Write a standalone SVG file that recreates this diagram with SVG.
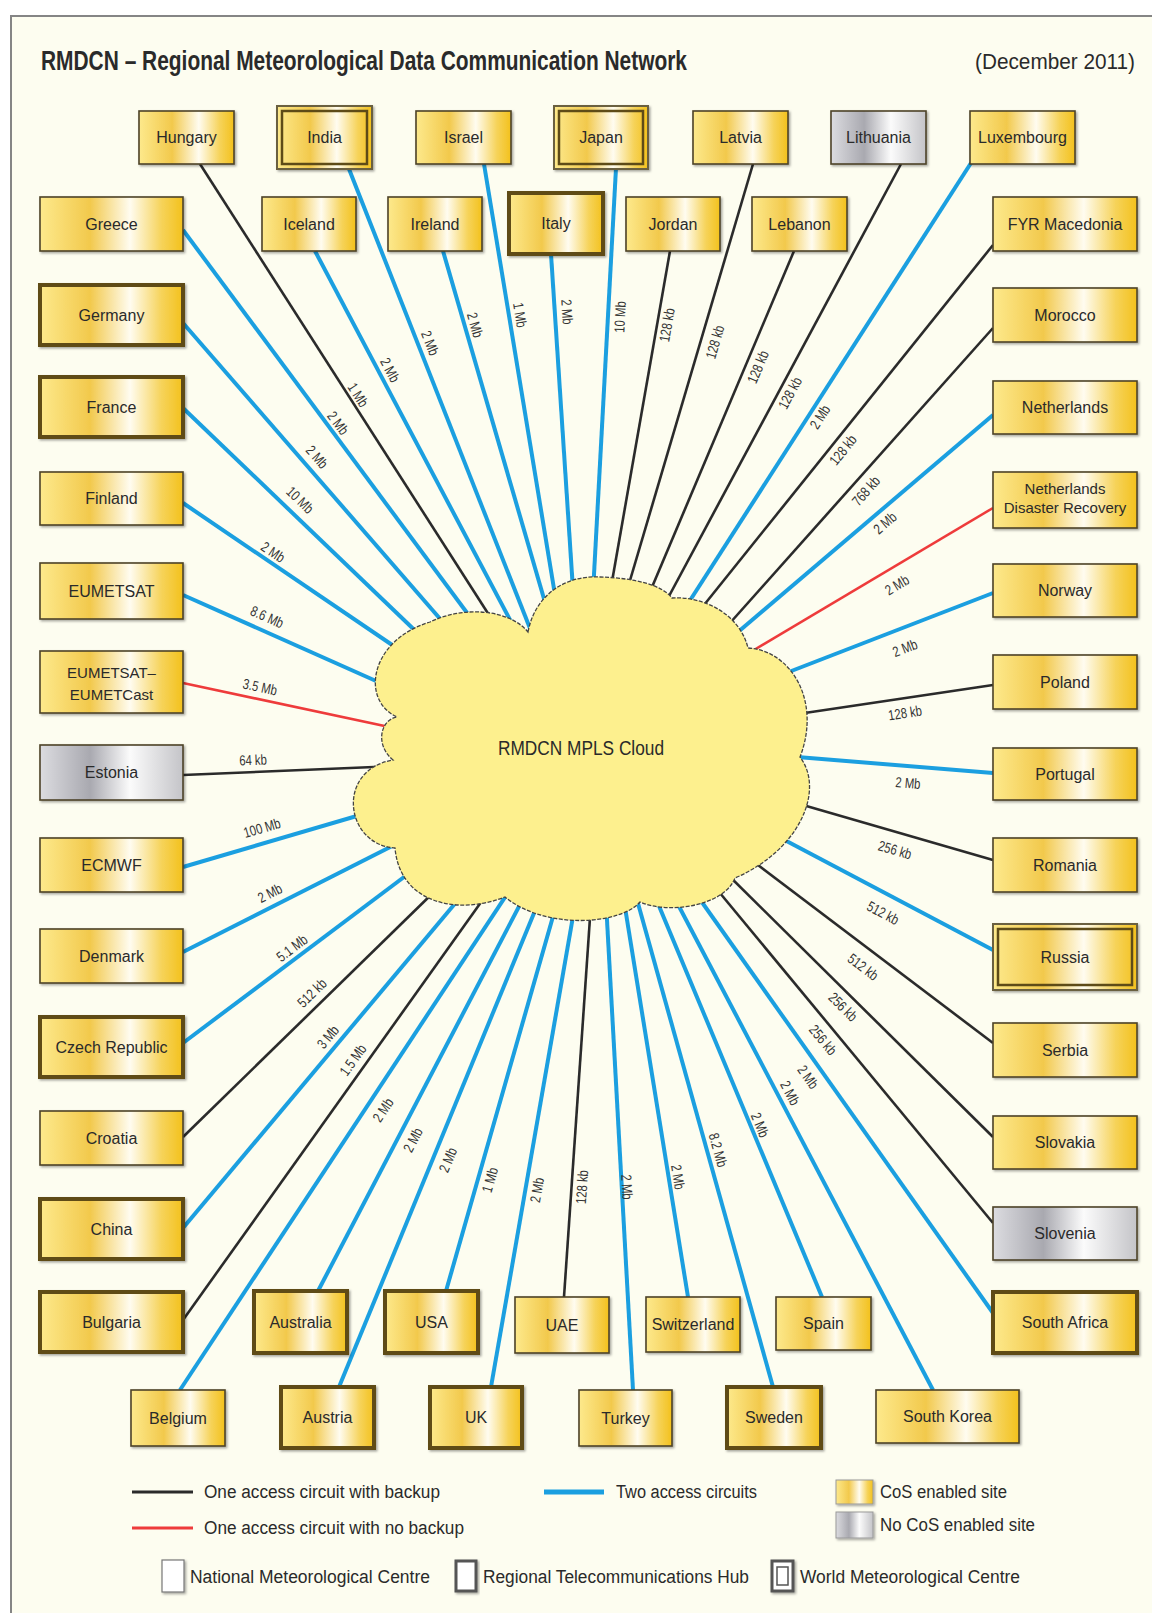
<svg xmlns="http://www.w3.org/2000/svg" width="1152" height="1613" viewBox="0 0 1152 1613">
<defs>
<linearGradient id="gold" x1="0" y1="0" x2="1" y2="0">
<stop offset="0" stop-color="#fde98c"/><stop offset="0.35" stop-color="#f2c94c"/><stop offset="0.63" stop-color="#fffcf0"/><stop offset="0.85" stop-color="#f6d35a"/><stop offset="1" stop-color="#f3c11c"/>
</linearGradient>
<linearGradient id="grey" x1="0" y1="0" x2="1" y2="0">
<stop offset="0" stop-color="#dcdce0"/><stop offset="0.35" stop-color="#a9a9b0"/><stop offset="0.63" stop-color="#fbfbfb"/><stop offset="1" stop-color="#c4c4c8"/>
</linearGradient>
<filter id="sh" x="-10%" y="-10%" width="130%" height="140%"><feDropShadow dx="1.5" dy="1.5" stdDeviation="1" flood-color="#000" flood-opacity="0.35"/></filter>
<style>
.bl{stroke:#1b9fe0;stroke-width:4;fill:none}
.bk{stroke:#2b2b2b;stroke-width:2.6;fill:none}
.rd{stroke:#ee3b3b;stroke-width:2.6;fill:none}
.box{filter:url(#sh)}
.gd{fill:url(#gold)}
.gy{fill:url(#grey)}
.nmc{stroke:#4d4328;stroke-width:1.6}
.rth{stroke:#5e4b17;stroke-width:4}
.wmco{stroke:#6b6040;stroke-width:2}
.wmci{fill:none;stroke:#5e4b17;stroke-width:2.5}
.lbl{font-family:"Liberation Sans",Arial,sans-serif;font-size:14.5px;fill:#333;text-anchor:middle}
.nt{font-family:"Liberation Sans",Arial,sans-serif;font-size:16px;fill:#2a2a2a;text-anchor:middle}
.nt2{font-family:"Liberation Sans",Arial,sans-serif;font-size:15px;fill:#2a2a2a;text-anchor:middle}
.lg{font-family:"Liberation Sans",Arial,sans-serif;font-size:18px;fill:#2a2a2a}
</style>
</defs>
<rect x="0" y="0" width="1152" height="1613" fill="#ffffff"/>
<rect x="11" y="16" width="1160" height="1620" fill="#fdfdf0" stroke="#858585" stroke-width="2"/>
<text x="41" y="70" font-family="'Liberation Sans',Arial,sans-serif" font-size="27" font-weight="bold" fill="#2a2a2a" textLength="646" lengthAdjust="spacingAndGlyphs">RMDCN – Regional Meteorological Data Communication Network</text>
<text x="975" y="69" font-family="'Liberation Sans',Arial,sans-serif" font-size="22" fill="#2a2a2a" textLength="160" lengthAdjust="spacingAndGlyphs">(December 2011)</text>

<g id="connectors">
<line class="bl" x1="183" y1="230" x2="479" y2="629"/>
<line class="bl" x1="183" y1="323" x2="455" y2="636"/>
<line class="bl" x1="183" y1="408" x2="428" y2="643"/>
<line class="bl" x1="183" y1="503" x2="404" y2="653"/>
<line class="bl" x1="183" y1="595" x2="394" y2="689"/>
<line class="rd" x1="183" y1="683" x2="408" y2="731"/>
<line class="bk" x1="183" y1="775" x2="398" y2="766"/>
<line class="bl" x1="183" y1="867" x2="367" y2="813"/>
<line class="bl" x1="183" y1="952" x2="408" y2="838"/>
<line class="bl" x1="183" y1="1043" x2="420" y2="865"/>
<line class="bk" x1="183" y1="1137" x2="438" y2="888"/>
<line class="bl" x1="183" y1="1228" x2="463" y2="894"/>
<line class="bk" x1="183" y1="1320" x2="489" y2="891"/>
<line class="bl" x1="180" y1="1390" x2="511" y2="888"/>
<line class="bl" x1="318" y1="1291" x2="525" y2="895"/>
<line class="bl" x1="339" y1="1387" x2="539" y2="901"/>
<line class="bl" x1="446" y1="1291" x2="556" y2="906"/>
<line class="bl" x1="491" y1="1387" x2="575" y2="905"/>
<line class="bk" x1="564" y1="1297" x2="591" y2="903"/>
<line class="bl" x1="633" y1="1390" x2="606" y2="902"/>
<line class="bl" x1="688" y1="1297" x2="623" y2="895"/>
<line class="bl" x1="773" y1="1387" x2="634" y2="889"/>
<line class="bl" x1="822" y1="1297" x2="654" y2="894"/>
<line class="bl" x1="933" y1="1390" x2="673" y2="895"/>
<line class="bl" x1="993" y1="1313" x2="694" y2="891"/>
<line class="bk" x1="993" y1="1223" x2="710" y2="881"/>
<line class="bk" x1="993" y1="1137" x2="717" y2="864"/>
<line class="bk" x1="993" y1="1043" x2="750" y2="859"/>
<line class="bl" x1="993" y1="950" x2="777" y2="836"/>
<line class="bk" x1="993" y1="860" x2="796" y2="803"/>
<line class="bl" x1="993" y1="773" x2="785" y2="756"/>
<line class="bk" x1="993" y1="685" x2="798" y2="714"/>
<line class="bl" x1="993" y1="593" x2="781" y2="675"/>
<line class="rd" x1="993" y1="508" x2="744" y2="656"/>
<line class="bl" x1="993" y1="415" x2="731" y2="638"/>
<line class="bk" x1="993" y1="328" x2="730" y2="623"/>
<line class="bk" x1="993" y1="245" x2="696" y2="615"/>
<line class="bl" x1="971" y1="163" x2="680" y2="616"/>
<line class="bk" x1="901" y1="164" x2="661" y2="611"/>
<line class="bk" x1="794" y1="251" x2="647" y2="599"/>
<line class="bk" x1="753" y1="164" x2="626" y2="594"/>
<line class="bk" x1="670" y1="251" x2="610" y2="593"/>
<line class="bl" x1="616" y1="168" x2="593" y2="593"/>
<line class="bl" x1="551" y1="254" x2="574" y2="605"/>
<line class="bl" x1="484" y1="164" x2="557" y2="607"/>
<line class="bl" x1="443" y1="251" x2="549" y2="616"/>
<line class="bl" x1="349" y1="169" x2="533" y2="636"/>
<line class="bl" x1="315" y1="251" x2="517" y2="633"/>
<line class="bk" x1="200" y1="164" x2="498" y2="629"/>

<g class="lbl">
<text transform="translate(567,312) rotate(86.3) scale(0.78,1)" y="5">2 Mb</text>
<text transform="translate(520,315) rotate(80.6) scale(0.78,1)" y="5">1 Mb</text>
<text transform="translate(475,325) rotate(73.8) scale(0.78,1)" y="5">2 Mb</text>
<text transform="translate(430,343) rotate(68.5) scale(0.78,1)" y="5">2 Mb</text>
<text transform="translate(390,370) rotate(62.1) scale(0.78,1)" y="5">2 Mb</text>
<text transform="translate(358,395) rotate(57.3) scale(0.78,1)" y="5">1 Mb</text>
<text transform="translate(338,423) rotate(53.4) scale(0.78,1)" y="5">2 Mb</text>
<text transform="translate(317,457) rotate(49) scale(0.78,1)" y="5">2 Mb</text>
<text transform="translate(300,500) rotate(43.8) scale(0.78,1)" y="5">10 Mb</text>
<text transform="translate(273,552) rotate(33.4) scale(0.78,1)" y="5">2 Mb</text>
<text transform="translate(267,617) rotate(24.1) scale(0.78,1)" y="5">8.6 Mb</text>
<text transform="translate(260,687) rotate(12.1) scale(0.78,1)" y="5">3.5 Mb</text>
<text transform="translate(253,760) rotate(-2.3) scale(0.78,1)" y="5">64 kb</text>
<text transform="translate(262,828) rotate(-16.4) scale(0.78,1)" y="5">100 Mb</text>
<text transform="translate(270,893) rotate(-26.8) scale(0.78,1)" y="5">2 Mb</text>
<text transform="translate(292,948) rotate(-36.9) scale(0.78,1)" y="5">5.1 Mb</text>
<text transform="translate(312,993) rotate(-44.4) scale(0.78,1)" y="5">512 kb</text>
<text transform="translate(328,1037) rotate(-50.1) scale(0.78,1)" y="5">3 Mb</text>
<text transform="translate(353,1060) rotate(-54.5) scale(0.78,1)" y="5">1.5 Mb</text>
<text transform="translate(383,1110) rotate(-56.6) scale(0.78,1)" y="5">2 Mb</text>
<text transform="translate(413,1140) rotate(-62.4) scale(0.78,1)" y="5">2 Mb</text>
<text transform="translate(448,1160) rotate(-67.7) scale(0.78,1)" y="5">2 Mb</text>
<text transform="translate(490,1180) rotate(-74.1) scale(0.78,1)" y="5">1 Mb</text>
<text transform="translate(537,1190) rotate(-80.2) scale(0.78,1)" y="5">2 Mb</text>
<text transform="translate(582,1187) rotate(-86.1) scale(0.78,1)" y="5">128 kb</text>
<text transform="translate(627,1187) rotate(86.9) scale(0.78,1)" y="5">2 Mb</text>
<text transform="translate(678,1177) rotate(80.8) scale(0.78,1)" y="5">2 Mb</text>
<text transform="translate(718,1150) rotate(74.4) scale(0.78,1)" y="5">8.2 Mb</text>
<text transform="translate(760,1125) rotate(67.4) scale(0.78,1)" y="5">2 Mb</text>
<text transform="translate(790,1093) rotate(62.3) scale(0.78,1)" y="5">2 Mb</text>
<text transform="translate(808,1077) rotate(54.7) scale(0.78,1)" y="5">2 Mb</text>
<text transform="translate(823,1040) rotate(50.4) scale(0.78,1)" y="5">256 kb</text>
<text transform="translate(843,1007) rotate(44.7) scale(0.78,1)" y="5">256 kb</text>
<text transform="translate(863,967) rotate(37.1) scale(0.78,1)" y="5">512 kb</text>
<text transform="translate(883,913) rotate(27.8) scale(0.78,1)" y="5">512 kb</text>
<text transform="translate(895,850) rotate(16.2) scale(0.78,1)" y="5">256 kb</text>
<text transform="translate(908,783) rotate(4.7) scale(0.78,1)" y="5">2 Mb</text>
<text transform="translate(905,713) rotate(-8.5) scale(0.78,1)" y="5">128 kb</text>
<text transform="translate(905,648) rotate(-21.3) scale(0.78,1)" y="5">2 Mb</text>
<text transform="translate(897,585) rotate(-30.7) scale(0.78,1)" y="5">2 Mb</text>
<text transform="translate(885,523) rotate(-40.3) scale(0.78,1)" y="5">2 Mb</text>
<text transform="translate(866,491) rotate(-48.3) scale(0.78,1)" y="5">768 kb</text>
<text transform="translate(843,450) rotate(-51.2) scale(0.78,1)" y="5">128 kb</text>
<text transform="translate(820,417) rotate(-57.3) scale(0.78,1)" y="5">2 Mb</text>
<text transform="translate(790,393) rotate(-61.8) scale(0.78,1)" y="5">128 kb</text>
<text transform="translate(758,367) rotate(-67.1) scale(0.78,1)" y="5">128 kb</text>
<text transform="translate(715,342) rotate(-73.5) scale(0.78,1)" y="5">128 kb</text>
<text transform="translate(667,325) rotate(-80.1) scale(0.78,1)" y="5">128 kb</text>
<text transform="translate(620,317) rotate(-86.9) scale(0.78,1)" y="5">10 Mb</text>
</g>
</g>

<g id="cloud">
<path d="M528,632 C535,595 565,575 600,577 C635,578 662,585 672,598 C705,596 740,615 748,648 C790,650 822,700 800,757 C825,790 800,850 735,878 C725,905 670,915 640,902 C620,925 545,930 505,897 C460,915 400,905 395,848 C345,845 335,770 393,760 C375,745 380,720 397,717 C360,700 370,640 430,622 C465,605 510,610 528,632 Z" fill="#fdf08e" stroke="#444" stroke-width="1.3" stroke-dasharray="4 1.5"/>
<text x="581" y="755" font-family="'Liberation Sans',Arial,sans-serif" font-size="20" fill="#2a2a2a" text-anchor="middle" textLength="166" lengthAdjust="spacingAndGlyphs">RMDCN MPLS Cloud</text>
</g>

<g id="n-hungary"><rect class="box gd nmc" x="139" y="111" width="95" height="53"/><text class="nt" x="186.5" y="143">Hungary</text></g>
<g id="n-india"><rect class="box gd wmco" x="277" y="106" width="95" height="63"/><rect class="wmci" x="282" y="111" width="85" height="53"/><text class="nt" x="324.5" y="143">India</text></g>
<g id="n-israel"><rect class="box gd nmc" x="416" y="111" width="95" height="53"/><text class="nt" x="463.5" y="143">Israel</text></g>
<g id="n-japan"><rect class="box gd wmco" x="554" y="106" width="94" height="63"/><rect class="wmci" x="559" y="111" width="84" height="53"/><text class="nt" x="601" y="143">Japan</text></g>
<g id="n-latvia"><rect class="box gd nmc" x="693" y="111" width="95" height="53"/><text class="nt" x="740.5" y="143">Latvia</text></g>
<g id="n-lithuania"><rect class="box gy nmc" x="831" y="111" width="95" height="53"/><text class="nt" x="878.5" y="143">Lithuania</text></g>
<g id="n-luxembourg"><rect class="box gd nmc" x="970" y="111" width="105" height="53"/><text class="nt" x="1022.5" y="143">Luxembourg</text></g>

<g id="n-greece"><rect class="box gd nmc" x="40" y="197" width="143" height="54"/><text class="nt" x="111.5" y="229.5">Greece</text></g>
<g id="n-iceland"><rect class="box gd nmc" x="262" y="197" width="94" height="54"/><text class="nt" x="309" y="229.5">Iceland</text></g>
<g id="n-ireland"><rect class="box gd nmc" x="388" y="197" width="94" height="54"/><text class="nt" x="435" y="229.5">Ireland</text></g>
<g id="n-italy"><rect class="box gd rth" x="509" y="193" width="94" height="61"/><text class="nt" x="556" y="229">Italy</text></g>
<g id="n-jordan"><rect class="box gd nmc" x="626" y="197" width="94" height="54"/><text class="nt" x="673" y="229.5">Jordan</text></g>
<g id="n-lebanon"><rect class="box gd nmc" x="752" y="197" width="95" height="54"/><text class="nt" x="799.5" y="229.5">Lebanon</text></g>
<g id="n-fyrmacedonia"><rect class="box gd nmc" x="993" y="197" width="144" height="54"/><text class="nt" x="1065" y="229.5">FYR Macedonia</text></g>

<g id="n-germany"><rect class="box gd rth" x="40" y="285" width="143" height="60"/><text class="nt" x="111.5" y="320.5">Germany</text></g>
<g id="n-france"><rect class="box gd rth" x="40" y="377" width="143" height="60"/><text class="nt" x="111.5" y="412.5">France</text></g>
<g id="n-finland"><rect class="box gd nmc" x="40" y="472" width="143" height="53"/><text class="nt" x="111.5" y="504">Finland</text></g>
<g id="n-eumetsat"><rect class="box gd nmc" x="40" y="563" width="143" height="56"/><text class="nt" x="111.5" y="596.5">EUMETSAT</text></g>
<g id="n-eumetcast"><rect class="box gd nmc" x="40" y="651" width="143" height="62"/><text class="nt2" x="111.5" y="678">EUMETSAT–</text><text class="nt2" x="111.5" y="700">EUMETCast</text></g>
<g id="n-estonia"><rect class="box gy nmc" x="40" y="745" width="143" height="55"/><text class="nt" x="111.5" y="778">Estonia</text></g>
<g id="n-ecmwf"><rect class="box gd nmc" x="40" y="838" width="143" height="54"/><text class="nt" x="111.5" y="870.5">ECMWF</text></g>
<g id="n-denmark"><rect class="box gd nmc" x="40" y="929" width="143" height="54"/><text class="nt" x="111.5" y="961.5">Denmark</text></g>
<g id="n-czech"><rect class="box gd rth" x="40" y="1017" width="143" height="60"/><text class="nt" x="111.5" y="1052.5">Czech Republic</text></g>
<g id="n-croatia"><rect class="box gd nmc" x="40" y="1111" width="143" height="54"/><text class="nt" x="111.5" y="1143.5">Croatia</text></g>
<g id="n-china"><rect class="box gd rth" x="40" y="1199" width="143" height="60"/><text class="nt" x="111.5" y="1234.5">China</text></g>
<g id="n-bulgaria"><rect class="box gd rth" x="40" y="1292" width="143" height="60"/><text class="nt" x="111.5" y="1327.5">Bulgaria</text></g>

<g id="n-morocco"><rect class="box gd nmc" x="993" y="288" width="144" height="54"/><text class="nt" x="1065" y="320.5">Morocco</text></g>
<g id="n-netherlands"><rect class="box gd nmc" x="993" y="381" width="144" height="53"/><text class="nt" x="1065" y="413">Netherlands</text></g>
<g id="n-ndr"><rect class="box gd nmc" x="993" y="472" width="144" height="56"/><text class="nt2" x="1065" y="494">Netherlands</text><text class="nt2" x="1065" y="513">Disaster Recovery</text></g>
<g id="n-norway"><rect class="box gd nmc" x="993" y="564" width="144" height="53"/><text class="nt" x="1065" y="596">Norway</text></g>
<g id="n-poland"><rect class="box gd nmc" x="993" y="655" width="144" height="54"/><text class="nt" x="1065" y="687.5">Poland</text></g>
<g id="n-portugal"><rect class="box gd nmc" x="993" y="748" width="144" height="52"/><text class="nt" x="1065" y="779.5">Portugal</text></g>
<g id="n-romania"><rect class="box gd nmc" x="993" y="838" width="144" height="54"/><text class="nt" x="1065" y="870.5">Romania</text></g>
<g id="n-russia"><rect class="box gd wmco" x="993" y="924" width="144" height="66"/><rect class="wmci" x="998" y="929" width="134" height="56"/><text class="nt" x="1065" y="962.5">Russia</text></g>
<g id="n-serbia"><rect class="box gd nmc" x="993" y="1023" width="144" height="54"/><text class="nt" x="1065" y="1055.5">Serbia</text></g>
<g id="n-slovakia"><rect class="box gd nmc" x="993" y="1116" width="144" height="53"/><text class="nt" x="1065" y="1148">Slovakia</text></g>
<g id="n-slovenia"><rect class="box gy nmc" x="993" y="1207" width="144" height="53"/><text class="nt" x="1065" y="1239">Slovenia</text></g>
<g id="n-southafrica"><rect class="box gd rth" x="993" y="1292" width="144" height="61"/><text class="nt" x="1065" y="1328">South Africa</text></g>

<g id="n-australia"><rect class="box gd rth" x="254" y="1291" width="93" height="62"/><text class="nt" x="300.5" y="1327.5">Australia</text></g>
<g id="n-usa"><rect class="box gd rth" x="385" y="1291" width="93" height="62"/><text class="nt" x="431.5" y="1327.5">USA</text></g>
<g id="n-uae"><rect class="box gd nmc" x="515" y="1297" width="94" height="56"/><text class="nt" x="562" y="1330.5">UAE</text></g>
<g id="n-switzerland"><rect class="box gd nmc" x="646" y="1297" width="94" height="55"/><text class="nt" x="693" y="1330">Switzerland</text></g>
<g id="n-spain"><rect class="box gd nmc" x="776" y="1297" width="95" height="53"/><text class="nt" x="823.5" y="1329">Spain</text></g>
<g id="n-belgium"><rect class="box gd nmc" x="131" y="1390" width="94" height="56"/><text class="nt" x="178" y="1423.5">Belgium</text></g>
<g id="n-austria"><rect class="box gd rth" x="281" y="1387" width="93" height="61"/><text class="nt" x="327.5" y="1423">Austria</text></g>
<g id="n-uk"><rect class="box gd rth" x="430" y="1387" width="92" height="61"/><text class="nt" x="476" y="1423">UK</text></g>
<g id="n-turkey"><rect class="box gd nmc" x="579" y="1390" width="93" height="56"/><text class="nt" x="625.5" y="1423.5">Turkey</text></g>
<g id="n-sweden"><rect class="box gd rth" x="727" y="1387" width="94" height="61"/><text class="nt" x="774" y="1423">Sweden</text></g>
<g id="n-southkorea"><rect class="box gd nmc" x="876" y="1390" width="143" height="53"/><text class="nt" x="947.5" y="1422">South Korea</text></g>

<g id="legend">
<line x1="132" y1="1492" x2="193" y2="1492" stroke="#2b2b2b" stroke-width="3"/>
<line x1="132" y1="1528" x2="193" y2="1528" stroke="#ee3b3b" stroke-width="3"/>
<line x1="544" y1="1492" x2="604" y2="1492" stroke="#1b9fe0" stroke-width="5"/>
<text class="lg" x="204" y="1498" textLength="236" lengthAdjust="spacingAndGlyphs">One access circuit with backup</text>
<text class="lg" x="204" y="1534" textLength="260" lengthAdjust="spacingAndGlyphs">One access circuit with no backup</text>
<text class="lg" x="616" y="1498" textLength="141" lengthAdjust="spacingAndGlyphs">Two access circuits</text>
<rect class="box gd" x="836" y="1480" width="37" height="24" stroke="#999" stroke-width="1"/>
<rect class="box gy" x="836" y="1512" width="37" height="26" stroke="#999" stroke-width="1"/>
<text class="lg" x="880" y="1498" textLength="127" lengthAdjust="spacingAndGlyphs">CoS enabled site</text>
<text class="lg" x="880" y="1531" textLength="155" lengthAdjust="spacingAndGlyphs">No CoS enabled site</text>
<rect class="box" x="162" y="1560" width="22" height="32" fill="#ffffff" stroke="#777" stroke-width="1.2"/>
<text class="lg" x="190" y="1583" textLength="240" lengthAdjust="spacingAndGlyphs">National Meteorological Centre</text>
<rect class="box" x="456" y="1561" width="20" height="30" fill="#ffffff" stroke="#555" stroke-width="3"/>
<text class="lg" x="483" y="1583" textLength="266" lengthAdjust="spacingAndGlyphs">Regional Telecommunications Hub</text>
<rect class="box" x="772" y="1561" width="21" height="30" fill="#ffffff" stroke="#555" stroke-width="3"/>
<rect x="777" y="1567" width="11" height="18" fill="none" stroke="#555" stroke-width="1.5"/>
<text class="lg" x="800" y="1583" textLength="220" lengthAdjust="spacingAndGlyphs">World Meteorological Centre</text>
</g>
</svg>
